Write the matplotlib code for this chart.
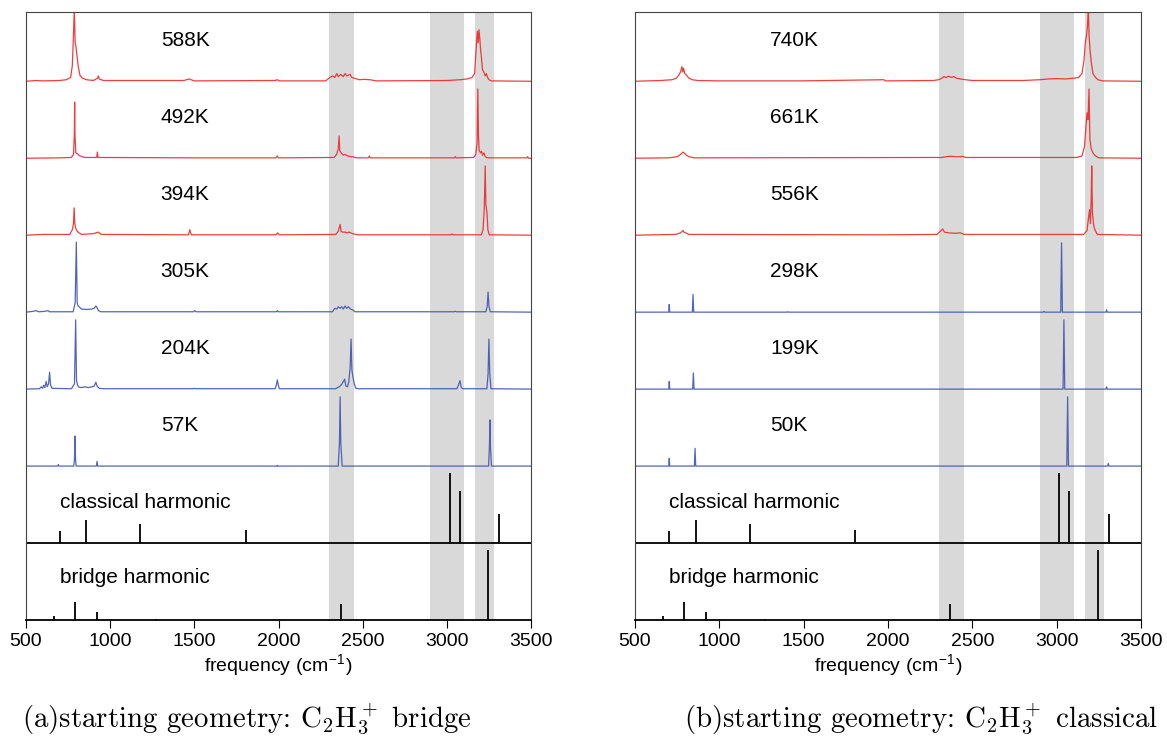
import matplotlib
matplotlib.use("Agg")
import matplotlib.pyplot as plt

plt.rcParams["font.family"] = ["Liberation Sans", "DejaVu Sans"]
plt.rcParams["mathtext.fontset"] = "cm"

# shaded frequency windows (cm-1)
bands = [(2300, 2450), (2900, 3100), (3170, 3280)]

# harmonic stick spectra (freq, relative intensity)
classical_harm = [(702, 0.15), (859, 0.30), (1179, 0.25), (1804, 0.17),
                  (3016, 0.91), (3076, 0.67), (3310, 0.38)]
bridge_harm = [(668, 0.05), (789, 0.24), (921, 0.10), (1272, 0.01),
               (2370, 0.21), (3244, 0.91)]

# panel (a): bridge start
a588 = [(500, 0), (560, 0.01), (600, 0.005), (700, 0.01), (740, 0.02), (765, 0.05),
        (775, 0.2), (782, 0.6), (787, 0.95), (792, 0.5), (797, 0.45), (803, 0.33),
        (810, 0.2), (820, 0.08), (835, 0.04), (860, 0.02), (900, 0.01), (925, 0.04),
        (930, 0.07), (935, 0.03), (960, 0.01), (1440, 0.01), (1460, 0.025), (1470, 0.03),
        (1480, 0.02), (1500, 0.005), (1980, 0.01), (1993, 0.02), (2005, 0.005),
        (2280, 0.005), (2300, 0.04), (2320, 0.07), (2335, 0.05), (2346, 0.1),
        (2355, 0.06), (2370, 0.09), (2385, 0.06), (2395, 0.1), (2405, 0.07),
        (2415, 0.08), (2425, 0.09), (2435, 0.05), (2450, 0.04), (2480, 0.02),
        (2510, 0.025), (2544, 0.02), (2580, 0.005), (3000, 0.01), (3080, 0.02),
        (3120, 0.03), (3150, 0.05), (3165, 0.1), (3175, 0.45), (3181, 0.65),
        (3186, 0.5), (3191, 0.67), (3196, 0.55), (3201, 0.4), (3206, 0.3),
        (3212, 0.15), (3220, 0.12), (3228, 0.07), (3235, 0.1), (3242, 0.05),
        (3250, 0.02), (3265, 0.005), (3500, 0)]
a492 = [(500, 0), (700, 0.005), (770, 0.01), (782, 0.05), (787, 0.3), (789, 0.73),
        (791, 0.3), (796, 0.07), (805, 0.06), (820, 0.03), (850, 0.01), (920, 0.01),
        (924, 0.08), (928, 0.01), (1500, 0.005), (1985, 0.005), (1993, 0.03),
        (2000, 0.005), (2330, 0.01), (2345, 0.05), (2355, 0.12), (2360, 0.29),
        (2364, 0.1), (2372, 0.07), (2385, 0.04), (2395, 0.05), (2410, 0.03),
        (2430, 0.02), (2440, 0.02), (2460, 0.005), (2535, 0.005), (2540, 0.03),
        (2545, 0.005), (3045, 0.005), (3050, 0.02), (3055, 0.005), (3160, 0.01),
        (3172, 0.05), (3180, 0.2), (3184, 0.9), (3188, 0.3), (3192, 0.1), (3200, 0.07),
        (3206, 0.09), (3212, 0.04), (3220, 0.07), (3228, 0.02), (3240, 0.005),
        (3475, 0.005), (3480, 0.02), (3485, 0), (3500, 0)]
a394 = [(500, 0), (600, 0.01), (760, 0.01), (775, 0.07), (782, 0.15), (786, 0.355),
        (790, 0.15), (795, 0.09), (805, 0.05), (815, 0.03), (830, 0.01), (900, 0.02),
        (915, 0.03), (930, 0.04), (945, 0.01), (1465, 0.005), (1473, 0.07),
        (1482, 0.005), (1985, 0.005), (1995, 0.03), (2005, 0.005), (2340, 0.01),
        (2355, 0.05), (2366, 0.14), (2372, 0.05), (2380, 0.04), (2395, 0.04),
        (2405, 0.03), (2420, 0.04), (2440, 0.02), (2470, 0.005), (3020, 0.005),
        (3030, 0.015), (3040, 0.005), (3205, 0.005), (3215, 0.07), (3222, 0.33),
        (3228, 0.9), (3232, 0.4), (3238, 0.3), (3244, 0.07), (3252, 0.005), (3500, 0)]
a305 = [(500, 0), (540, 0.01), (560, 0.02), (575, 0.005), (610, 0.01), (630, 0.02),
        (640, 0.005), (780, 0.005), (792, 0.12), (799, 0.91), (804, 0.12), (810, 0.08),
        (830, 0.04), (860, 0.035), (890, 0.04), (905, 0.05), (915, 0.08), (922, 0.06),
        (930, 0.02), (945, 0.005), (1495, 0.005), (1502, 0.02), (1510, 0.005),
        (1988, 0.005), (1993, 0.02), (1998, 0.005), (2320, 0.005), (2335, 0.05),
        (2345, 0.04), (2356, 0.07), (2366, 0.05), (2375, 0.07), (2385, 0.04),
        (2395, 0.08), (2405, 0.05), (2415, 0.07), (2428, 0.04), (2440, 0.03),
        (2455, 0.005), (3045, 0.005), (3050, 0.012), (3055, 0.005), (3232, 0.005),
        (3240, 0.08), (3245, 0.26), (3250, 0.08), (3258, 0.005), (3500, 0)]
a204 = [(500, 0), (580, 0.005), (590, 0.03), (598, 0.01), (605, 0.05), (612, 0.02),
        (620, 0.1), (626, 0.03), (634, 0.07), (640, 0.22), (646, 0.05), (655, 0.01),
        (770, 0.005), (788, 0.07), (795, 0.9), (800, 0.12), (806, 0.05), (815, 0.025),
        (830, 0.02), (850, 0.03), (870, 0.02), (890, 0.03), (905, 0.04), (915, 0.09),
        (922, 0.04), (935, 0.01), (960, 0.005), (1495, 0.005), (1500, 0.012),
        (1505, 0.005), (1980, 0.005), (1988, 0.06), (1993, 0.12), (1998, 0.06),
        (2005, 0.005), (2340, 0.005), (2360, 0.03), (2375, 0.06), (2393, 0.13),
        (2400, 0.04), (2410, 0.03), (2418, 0.1), (2426, 0.3), (2431, 0.65),
        (2436, 0.25), (2442, 0.16), (2450, 0.07), (2460, 0.01), (2475, 0.005),
        (3060, 0.005), (3070, 0.06), (3078, 0.11), (3086, 0.02), (3095, 0.005),
        (3238, 0.005), (3245, 0.2), (3250, 0.65), (3255, 0.2), (3262, 0.005), (3500, 0)]
a57 = [(500, 0), (688, 0), (692, 0.02), (696, 0), (784, 0), (788, 0.1), (791, 0.39),
       (794, 0.1), (798, 0), (918, 0), (922, 0.06), (926, 0), (1990, 0), (1993, 0.01),
       (1996, 0), (2355, 0), (2362, 0.3), (2366, 0.9), (2370, 0.3), (2378, 0),
       (3248, 0), (3253, 0.25), (3256, 0.6), (3259, 0.25), (3265, 0), (3500, 0)]

# panel (b): classical start
b740 = [(500, 0), (650, 0.01), (720, 0.02), (745, 0.04), (760, 0.08), (770, 0.12),
        (778, 0.19), (783, 0.12), (788, 0.17), (795, 0.1), (805, 0.08), (820, 0.04),
        (840, 0.02), (870, 0.01), (1000, 0.005), (1480, 0.005), (1976, 0.02),
        (1985, 0.005), (2270, 0.01), (2300, 0.02), (2320, 0.04), (2330, 0.06),
        (2345, 0.05), (2360, 0.065), (2375, 0.05), (2390, 0.06), (2405, 0.04),
        (2430, 0.03), (2460, 0.02), (2500, 0.01), (2600, 0.01), (2800, 0.01),
        (2900, 0.02), (2950, 0.03), (3000, 0.035), (3050, 0.03), (3100, 0.04),
        (3130, 0.05), (3150, 0.1), (3162, 0.27), (3170, 0.5), (3176, 0.58),
        (3182, 0.7), (3188, 0.95), (3192, 0.6), (3198, 0.4), (3205, 0.25),
        (3215, 0.1), (3230, 0.05), (3245, 0.02), (3270, 0.005), (3500, 0)]
b661 = [(500, 0), (700, 0.005), (750, 0.02), (765, 0.04), (775, 0.06), (784, 0.08),
        (790, 0.07), (796, 0.06), (805, 0.04), (820, 0.02), (850, 0.005), (2320, 0.01),
        (2345, 0.02), (2370, 0.025), (2400, 0.02), (2430, 0.02), (2440, 0.025),
        (2460, 0.01), (3120, 0.01), (3150, 0.03), (3165, 0.15), (3175, 0.45),
        (3180, 0.59), (3186, 0.5), (3192, 0.9), (3197, 0.25), (3205, 0.12),
        (3215, 0.07), (3230, 0.03), (3250, 0.005), (3500, 0)]
b556 = [(500, 0), (740, 0.01), (770, 0.03), (785, 0.06), (790, 0.04), (800, 0.03),
        (820, 0.01), (1966, 0.005), (2290, 0.01), (2310, 0.05), (2324, 0.08),
        (2335, 0.04), (2360, 0.03), (2400, 0.025), (2430, 0.03), (2450, 0.01),
        (3160, 0.01), (3180, 0.06), (3190, 0.25), (3195, 0.33), (3200, 0.15),
        (3205, 0.5), (3208, 0.9), (3212, 0.3), (3218, 0.15), (3225, 0.08),
        (3240, 0.01), (3500, 0)]
b298 = [(500, 0), (700, 0), (703, 0.10), (706, 0), (840, 0), (844, 0.23), (848, 0),
        (1400, 0), (1405, 0.005), (1410, 0), (2920, 0), (2925, 0.01), (2930, 0),
        (3024, 0), (3029, 0.9), (3034, 0), (3292, 0), (3296, 0.03), (3300, 0), (3500, 0)]
b199 = [(500, 0), (700, 0), (703, 0.10), (706, 0), (842, 0), (846, 0.21), (850, 0),
        (3038, 0), (3043, 0.9), (3048, 0), (3292, 0), (3296, 0.03), (3300, 0), (3500, 0)]
b50 = [(500, 0), (700, 0), (703, 0.10), (706, 0), (852, 0), (856, 0.23), (860, 0),
       (3060, 0), (3065, 0.9), (3070, 0), (3302, 0), (3306, 0.035), (3310, 0), (3500, 0)]

panels = [
    ([("588K", a588, "r"), ("492K", a492, "r"), ("394K", a394, "r"),
      ("305K", a305, "b"), ("204K", a204, "b"), ("57K", a57, "b")],
     r"(a)starting geometry: $\mathrm{C_2H_3^+}$ bridge"),
    ([("740K", b740, "r"), ("661K", b661, "r"), ("556K", b556, "r"),
      ("298K", b298, "b"), ("199K", b199, "b"), ("50K", b50, "b")],
     r"(b)starting geometry: $\mathrm{C_2H_3^+}$ classical"),
]

colors = {"r": "#ec2a2a", "b": "#3f55ad"}

W, H = 1167, 756
fig = plt.figure(figsize=(W / 100, H / 100), dpi=100)
lefts = [26, 635]
widths = [505, 506]
cap_x = [247, 921]

for k, (rows, caption) in enumerate(panels):
    ax = fig.add_axes([lefts[k] / W, (H - 620) / H, widths[k] / W, 608 / H])
    for lo, hi in bands:
        ax.axvspan(lo, hi, color="#d9d9d9", lw=0, zorder=0)

    # stick spectra at the bottom
    for f, h in bridge_harm:
        ax.vlines(f, 0, h, color="black", lw=1.3)
    for f, h in classical_harm:
        ax.vlines(f, 1, 1 + h, color="black", lw=1.3)
    ax.axhline(1, color="black", lw=1.3)
    ax.text(702, 0.55, "bridge harmonic", fontsize=15, va="center")
    ax.text(702, 1.53, "classical harmonic", fontsize=15, va="center")

    for i, (label, spec, c) in enumerate(rows):
        base = 7 - i
        fs = [p[0] for p in spec]
        ys = [base + p[1] for p in spec]
        ax.plot(fs, ys, color=colors[c], lw=0.9, alpha=0.9, zorder=2)
        ax.text(1300, base + 0.53, label, fontsize=15, va="center")

    ax.set_xlim(500, 3500)
    ax.set_ylim(0, 7.9)
    ax.set_yticks([])
    ax.set_xticks(range(500, 3501, 500))
    ax.tick_params(axis="x", direction="out", length=6, labelsize=14)
    for s in ax.spines.values():
        s.set_color("#444444")
    ax.spines["bottom"].set_color("black")
    ax.spines["bottom"].set_linewidth(1.3)
    ax.set_xlabel("frequency (cm$^{\\mathregular{-1}}$)", fontsize=14, labelpad=2)

    fig.text(cap_x[k] / W, 1 - 719 / H, caption, fontsize=20.8, family="cmr10",
             ha="center", va="center")

fig.savefig("out.png", dpi=100)
